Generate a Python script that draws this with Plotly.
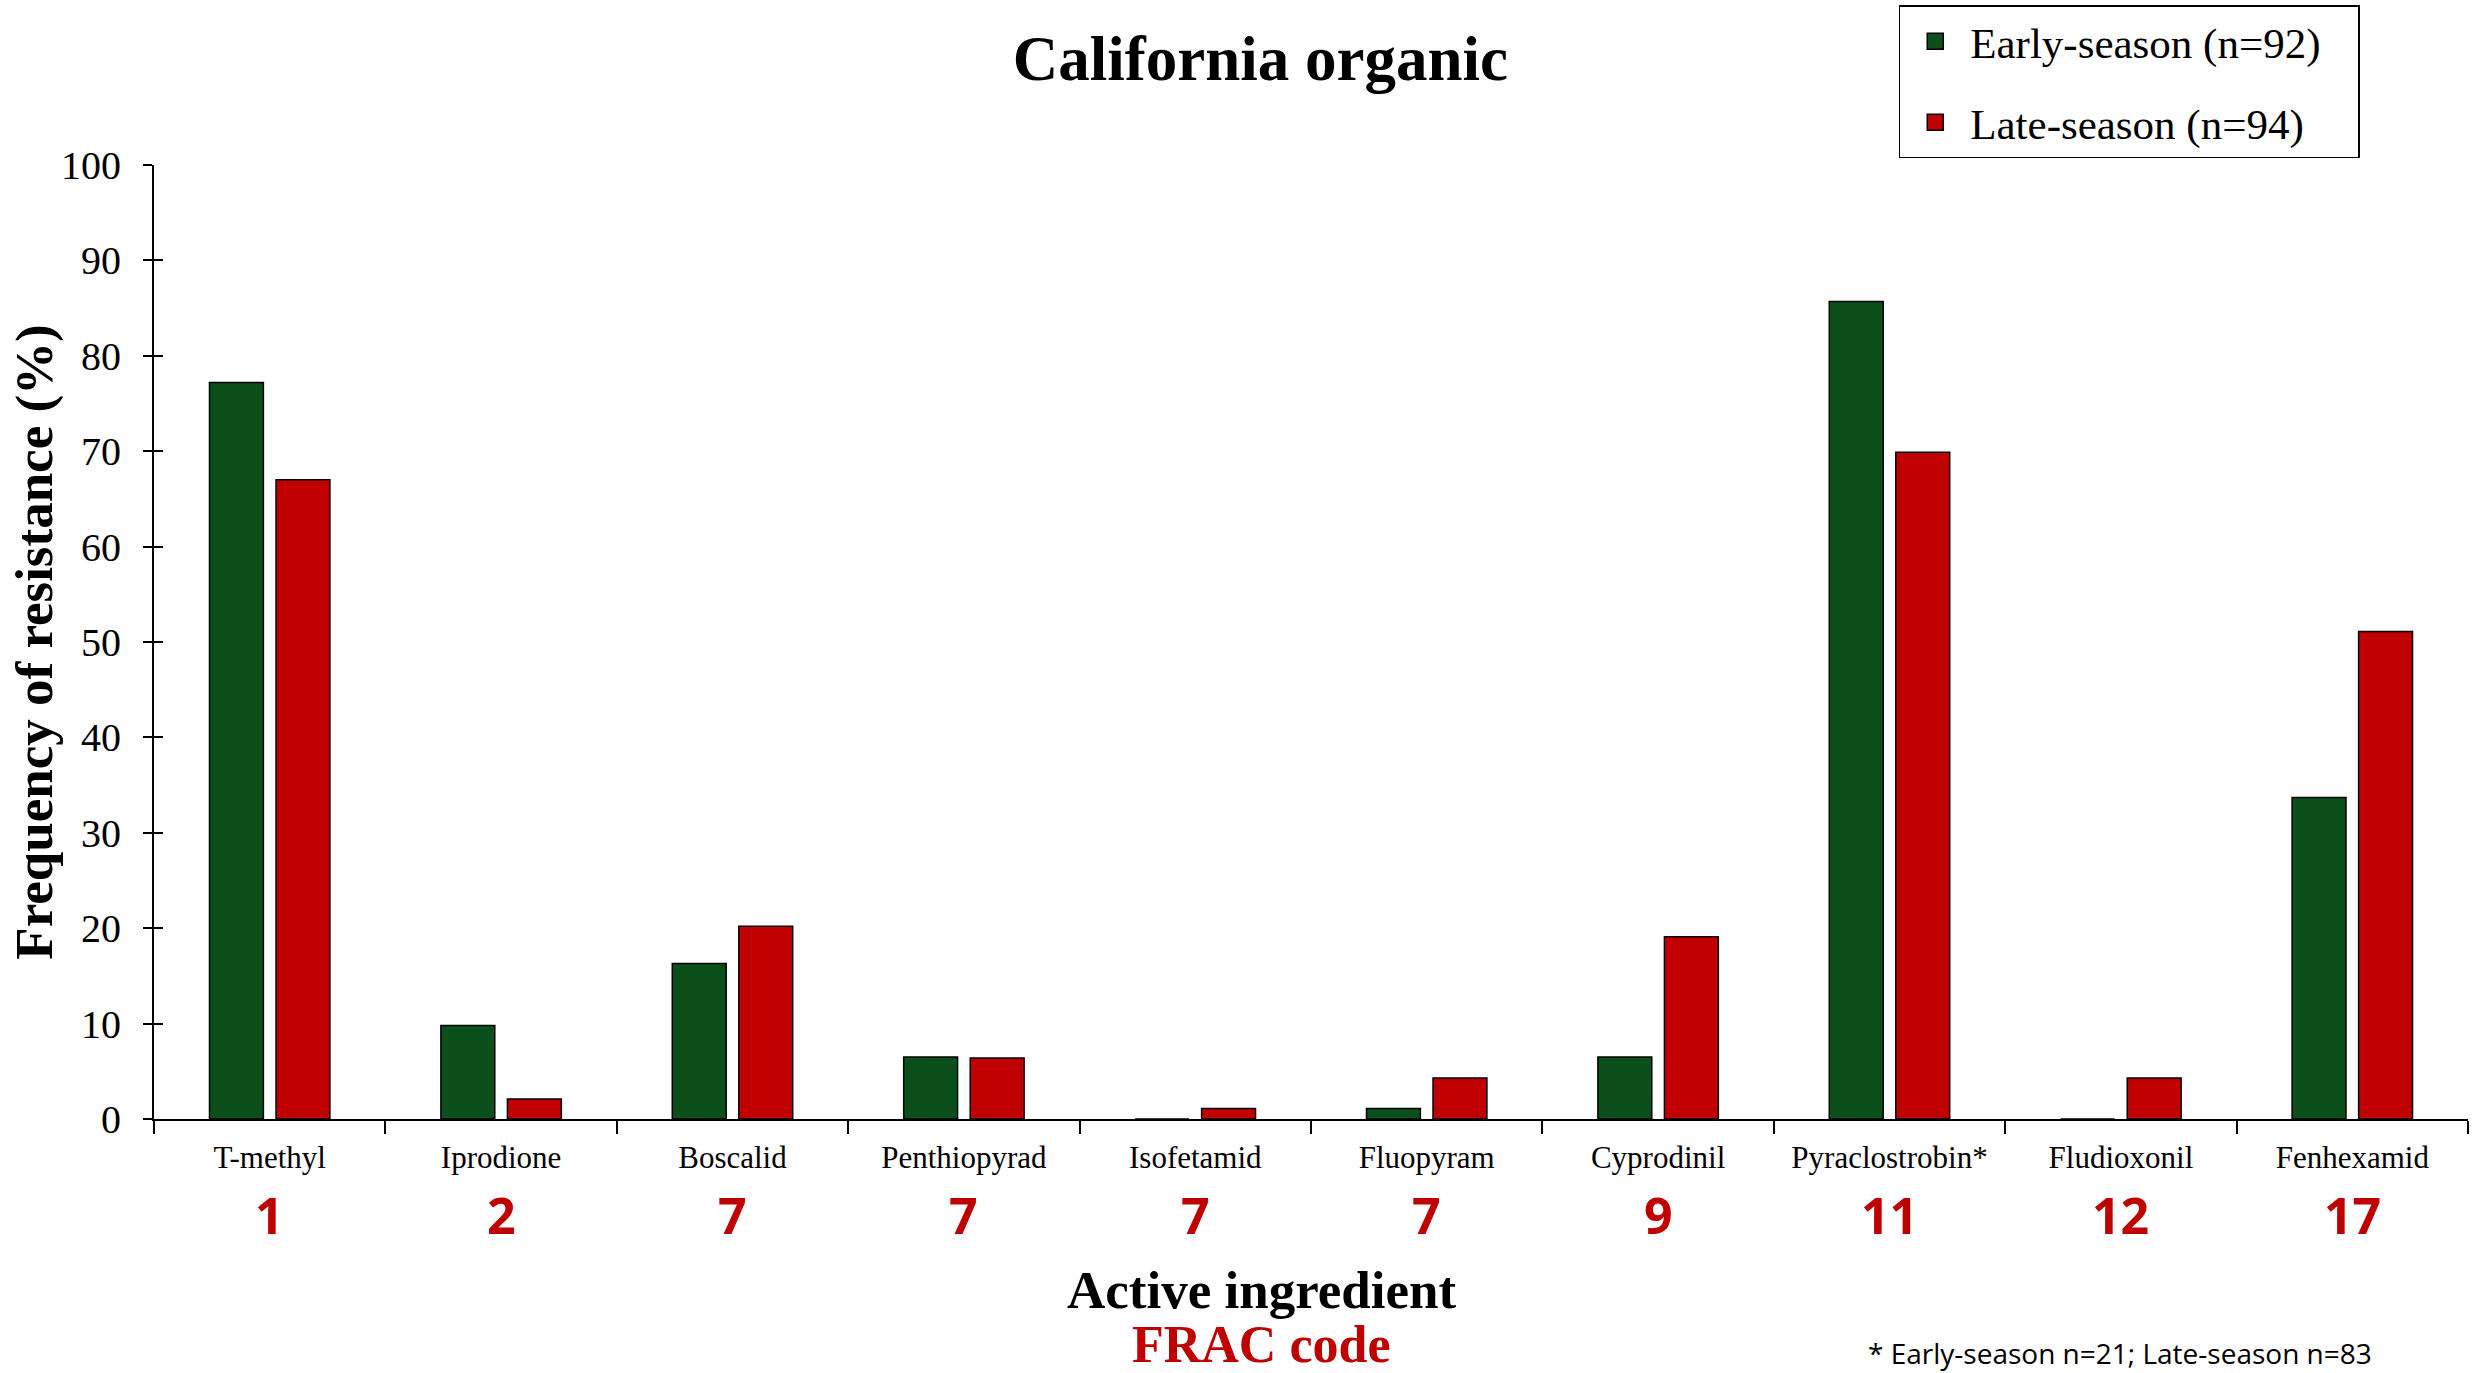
import plotly.graph_objects as go

# Resistance frequencies (%) by active ingredient
ingredients = ["T-methyl", "Iprodione", "Boscalid", "Penthiopyrad", "Isofetamid",
               "Fluopyram", "Cyprodinil", "Pyraclostrobin*", "Fludioxonil", "Fenhexamid"]
frac_codes = ["1", "2", "7", "7", "7", "7", "9", "11", "12", "17"]
early_season = [77.2, 9.8, 16.3, 6.5, 0.0, 1.1, 6.5, 85.7, 0.0, 33.7]
late_season = [67.0, 2.1, 20.2, 6.4, 1.1, 4.3, 19.1, 69.9, 4.3, 51.1]
series_names = ["Early-season (n=92)", "Late-season (n=94)"]
y_ticks = list(range(0, 101, 10))

GREEN = "#0B501B"
RED = "#C00000"
SERIF = "Liberation Serif, Times New Roman, serif"
SANS = "Open Sans, Noto Sans, sans-serif"

fig = go.Figure()
for name, values, color in [(series_names[0], early_season, GREEN),
                            (series_names[1], late_season, RED)]:
    fig.add_trace(go.Bar(
        x=ingredients, y=values, name=name, showlegend=False,
        marker=dict(color=color, line=dict(color="black", width=1.5)),
    ))
    # legend entry with a larger square swatch (trailing spaces pad the box)
    fig.add_trace(go.Scatter(
        x=[None], y=[None], name=name + "&nbsp;&nbsp;&nbsp;", mode="markers",
        legendgroup=name,
        marker=dict(symbol="square", size=16, color=color,
                    line=dict(color="black", width=1.5)),
        hoverinfo="skip",
    ))
# helper trace so the overlaid axis (inner tick halves) gets drawn
fig.add_trace(go.Scatter(x=[None], y=[None], yaxis="y2", showlegend=False,
                         hoverinfo="skip"))

annotations = []
# FRAC code under each ingredient
for name, code in zip(ingredients, frac_codes):
    annotations.append(dict(
        x=name, y=-0.101, xref="x", yref="paper", text=f"<b>{code}</b>",
        showarrow=False, xanchor="center", yanchor="middle",
        font=dict(family=SANS, size=50, color=RED),
    ))
annotations += [
    dict(x=-0.052, y=0.5, xref="paper", yref="paper",
         text="<b>Frequency of resistance (%)</b>", textangle=-90,
         showarrow=False, xanchor="center", yanchor="middle",
         font=dict(family=SERIF, size=53, color="black")),
    dict(x=0.4785, y=-0.1796, xref="paper", yref="paper",
         text="<b>Active ingredient</b>", showarrow=False,
         xanchor="center", yanchor="middle",
         font=dict(family=SERIF, size=53, color="black")),
    dict(x=0.4785, y=-0.2365, xref="paper", yref="paper",
         text="<b>FRAC code</b>", showarrow=False,
         xanchor="center", yanchor="middle",
         font=dict(family=SERIF, size=52, color=RED)),
    dict(x=0.8496, y=-0.2456, xref="paper", yref="paper",
         text="* Early-season n=21; Late-season n=83", showarrow=False,
         xanchor="center", yanchor="middle",
         font=dict(family=SANS, size=28, color="black")),
]

fig.update_layout(
    width=2481, height=1373,
    margin=dict(l=153.5, r=13, t=164.6, b=254.3, autoexpand=False),
    paper_bgcolor="white", plot_bgcolor="white",
    barmode="group", bargap=0.425, bargroupgap=0.19,
    title=dict(text="<b>California organic</b>", x=0.508, y=0.958,
               xref="container", yref="container",
               xanchor="center", yanchor="middle",
               font=dict(family=SERIF, size=63, color="black")),
    font=dict(family=SERIF, color="black"),
    legend=dict(
        x=0.754, y=1.1674, xanchor="left", yanchor="top",
        bgcolor="white", bordercolor="black", borderwidth=1.5,
        font=dict(family=SERIF, size=43, color="black"),
        tracegroupgap=22, traceorder="grouped", itemwidth=60,
    ),
    xaxis=dict(
        type="category", range=[-0.5, 9.5], automargin=False,
        showline=True, linecolor="black", linewidth=2,
        ticks="outside", tickson="boundaries", ticklen=13,
        tickcolor="black", tickwidth=2,
        tickfont=dict(family=SERIF, size=31, color="black"),
        ticklabelstandoff=10,
        showgrid=False, zeroline=False,
    ),
    yaxis=dict(
        range=[0, 100], tickvals=y_ticks, automargin=False,
        showline=True, linecolor="black", linewidth=2,
        ticks="outside", ticklen=9, tickcolor="black", tickwidth=2,
        tickfont=dict(family=SERIF, size=40, color="black"),
        ticklabelstandoff=14,
        showgrid=False, zeroline=False,
    ),
    yaxis2=dict(
        overlaying="y", side="left", range=[0, 100], tickvals=y_ticks,
        ticks="inside", ticklen=9, tickcolor="black", tickwidth=2,
        showticklabels=False, showline=False, showgrid=False, zeroline=False,
    ),
    annotations=annotations,
)

fig.write_html("out.html")
